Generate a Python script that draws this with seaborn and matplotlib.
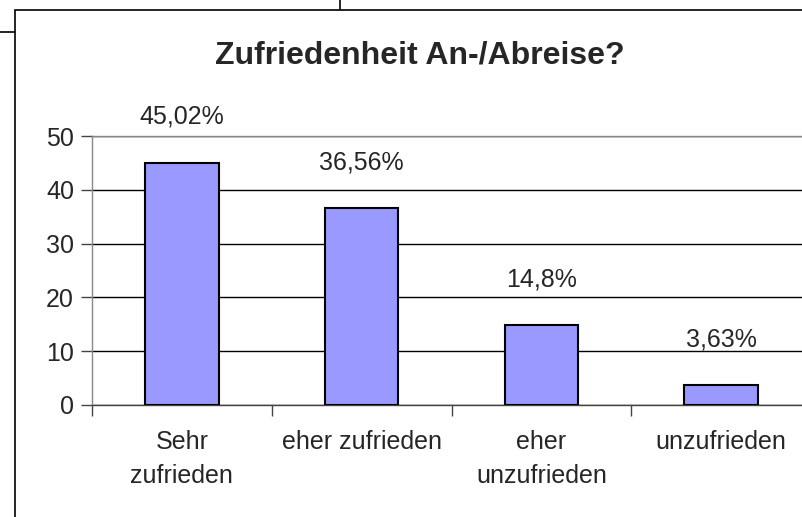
import matplotlib
matplotlib.use('Agg')
import matplotlib.pyplot as plt
from matplotlib.lines import Line2D
from matplotlib.patches import Rectangle
from matplotlib.ticker import FixedLocator
import seaborn as sns
import pandas as pd

# Data
categories = ['Sehr\nzufrieden', 'eher zufrieden', 'eher\nunzufrieden', 'unzufrieden']
values = [45.02, 36.56, 14.8, 3.63]
value_labels = ['45,02%', '36,56%', '14,8%', '3,63%']
yticks = [0, 10, 20, 30, 40, 50]
title = 'Zufriedenheit An-/Abreise?'

sns.set_style('white')
plt.rcParams['font.family'] = ['Liberation Sans', 'DejaVu Sans']

W, H = 803, 517
fig = plt.figure(figsize=(W / 100, H / 100), dpi=100)

# outer chart frame and bits of neighbouring frames
fig.add_artist(Rectangle((15 / W, -0.01), 1.0, (H - 10) / H + 0.01, transform=fig.transFigure,
                         fill=False, edgecolor='black', linewidth=1.2))
fig.add_artist(Line2D([0, 15 / W], [1 - 32 / H, 1 - 32 / H], transform=fig.transFigure,
                      color='black', linewidth=1.2))
fig.add_artist(Line2D([340 / W, 340 / W], [1 - 9 / H, 1.0], transform=fig.transFigure,
                      color='black', linewidth=1.2))

ax = fig.add_axes([92 / W, 1 - 405 / H, 1 - 92 / W + 0.01, (405 - 136) / H])

df = pd.DataFrame({'cat': categories, 'val': values})
sns.barplot(data=df, x='cat', y='val', ax=ax, color='#9999FF', saturation=1,
            edgecolor='black', linewidth=1.5, width=0.41, zorder=3)

ax.set_xlim(-0.5, 3.5)
ax.set_ylim(0, 50)
ax.set_yticks(yticks)
ax.set_yticklabels([str(t) for t in yticks], fontsize=18)
ax.yaxis.grid(True, color='black', linewidth=1)
ax.set_axisbelow(True)

# category labels at centres, tick marks at category boundaries
ax.set_xticks(range(len(categories)))
ax.set_xticklabels(categories, fontsize=18, linespacing=1.55)
ax.tick_params(axis='x', which='major', length=0, pad=18)
ax.xaxis.set_minor_locator(FixedLocator([i - 0.5 for i in range(len(categories) + 1)]))
ax.tick_params(axis='x', which='minor', length=8, width=1, color='#444444', direction='out', bottom=True)
ax.tick_params(axis='y', length=8, width=1, color='#444444', direction='out', left=True, pad=5)
for lbl in ax.get_xticklabels():
    lbl.set_verticalalignment('top')

ax.set_xlabel('')
ax.set_ylabel('')
ax.spines['right'].set_visible(False)
ax.spines['top'].set_color('#888888')
ax.spines['left'].set_color('#888888')
ax.spines['bottom'].set_color('#444444')
for s in ax.spines.values():
    s.set_linewidth(1)

for i, (v, lab) in enumerate(zip(values, value_labels)):
    ax.annotate(lab, (i, v), xytext=(0, 33), textcoords='offset points',
                ha='center', va='center', fontsize=18, annotation_clip=False)

fig.text(420 / W, 1 - 55 / H, title, ha='center', va='center', fontsize=23, fontweight='bold')

fig.savefig('out.png', dpi=100)
